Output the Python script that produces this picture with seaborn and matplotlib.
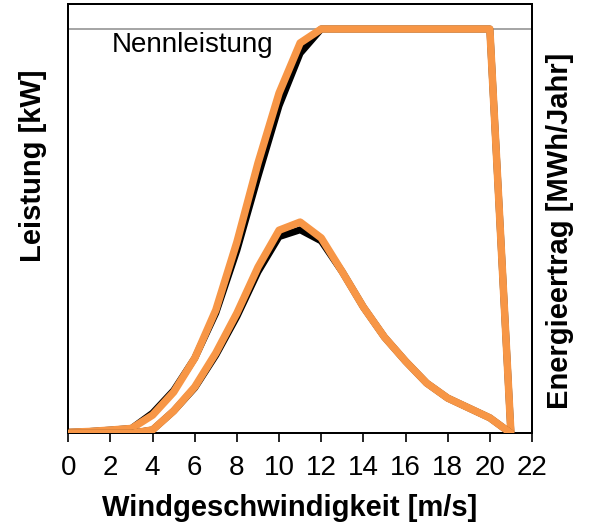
import matplotlib
matplotlib.use("Agg")
import matplotlib.pyplot as plt
import seaborn as sns
import numpy as np

# Wind speed [m/s]
wind_speed = [0, 1, 2, 3, 4, 5, 6, 7, 8, 9, 10, 11, 12, 13, 14, 15, 16, 17, 18, 19, 20, 21]

# Power curve [kW] (orange, and black reference beneath)
power_orange = [5, 9, 16, 24, 90, 204, 372, 610, 946, 1337, 1683, 1931, 2000,
                2000, 2000, 2000, 2000, 2000, 2000, 2000, 2000, 0]
power_black = [5, 9, 16, 24, 100, 212, 372, 595, 905, 1270, 1620, 1880, 2000,
               2000, 2000, 2000, 2000, 2000, 2000, 2000, 2000, 0]

# Energy yield [MWh/Jahr]
energy_orange = [0, 0, 0, 0, 8, 52, 108, 187, 280, 387, 473, 492, 455,
                 376, 294, 224, 168, 117, 82, 59, 36, 0]
energy_black = [0, 0, 0, 0, 8, 52, 106, 182, 272, 376, 458, 474, 448,
                376, 294, 224, 168, 117, 82, 59, 36, 0]

rated_power = 2000
x_ticks = [0, 2, 4, 6, 8, 10, 12, 14, 16, 18, 20, 22]

sns.set_style("white")
plt.rcParams['font.family'] = ['Liberation Sans', 'DejaVu Sans']
plt.rcParams['text.color'] = 'black'
plt.rcParams['axes.labelcolor'] = 'black'
plt.rcParams['xtick.color'] = 'black'
plt.rcParams['ytick.color'] = 'black'

ORANGE = "#F79646"

fig = plt.figure(figsize=(5.9, 5.28), dpi=100)
ax = fig.add_axes([68.3 / 590, (528 - 433.3) / 528, (532 - 68.3) / 590, (433.3 - 4) / 528])
ax2 = ax.twinx()

ax.axhline(rated_power, color="#8c8c8c", lw=1.1, zorder=1)
ax.text(2.05, 1921, "Nennleistung", fontsize=20, ha="left", va="center", color="black")

sns.lineplot(x=wind_speed, y=power_black, ax=ax, color="black", lw=5.0, zorder=2)
sns.lineplot(x=wind_speed, y=power_orange, ax=ax, color=ORANGE, lw=5.4, zorder=3)
sns.lineplot(x=wind_speed, y=energy_black, ax=ax2, color="black", lw=5.0, zorder=2)
sns.lineplot(x=wind_speed, y=energy_orange, ax=ax2, color=ORANGE, lw=5.4, zorder=3)

ax.set_xlim(0, 22)
ax.set_ylim(0, rated_power * 429.3 / 404.3)
ax2.set_ylim(0, 1000)

ax.set_xticks(x_ticks)
ax.set_xticklabels([str(t) for t in x_ticks], fontsize=20, color="black")
ax.set_yticks([])
ax2.set_yticks([])
ax.tick_params(axis="x", direction="out", length=6.5, width=1.2, color="black", pad=9,
               bottom=True, labelcolor="black")

for a in (ax, ax2):
    for s in a.spines.values():
        s.set_color("black")
        s.set_linewidth(1.4)
        s.set_visible(True)

ax.set_xlabel("Windgeschwindigkeit [m/s]", fontsize=21, fontweight="bold", va="center",
              color="black")
ax.xaxis.set_label_coords(0.478, -0.174)
ax.set_ylabel("Leistung [kW]", fontsize=21, fontweight="bold", va="center", color="black")
ax.yaxis.set_label_coords(-0.076, 0.623)
ax2.set_ylabel("Energieertrag [MWh/Jahr]", fontsize=21, fontweight="bold", va="center",
               rotation=90, color="black")
ax2.yaxis.set_label_coords(1.0604, 0.471)

fig.savefig("out.png", dpi=100)
